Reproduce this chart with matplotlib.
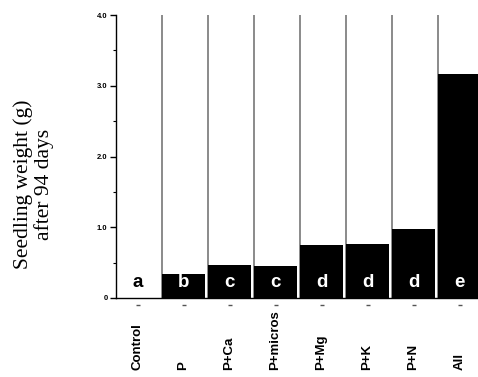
import matplotlib
matplotlib.use('Agg')
import matplotlib.pyplot as plt
import numpy as np

categories = ['Control', 'P', 'P+Ca', 'P+micros', 'P+Mg', 'P+K', 'P+N', 'All']
weights = [0.01, 0.34, 0.47, 0.45, 0.75, 0.76, 0.975, 3.17]
letters = ['a', 'b', 'c', 'c', 'd', 'd', 'd', 'e']
yticks = [0, 1.0, 2.0, 3.0, 4.0]
ytick_labels = ['0', '1.0', '2.0', '3.0', '4.0']

fig = plt.figure(figsize=(4.78, 3.77), dpi=100)
# axes runs past the right edge, like the cropped original
ax = fig.add_axes([116 / 478, 79 / 377, 368 / 478, 283 / 377])

x = np.arange(len(categories))
colors = ['white' if w < 0.05 else 'black' for w in weights]
ax.bar(x, weights, width=0.93, color=colors, align='edge', zorder=2)

# gray separators between treatments
for b in x[1:]:
    ax.axvline(b, ymin=0, ymax=1, color='#8a8a8a', lw=1.4, zorder=1)

# significance letters
for xi, lt, c in zip(x, letters, colors):
    tc = 'black' if c == 'white' else 'white'
    ax.text(xi + 0.47, 0.1, lt, ha='center', va='bottom', color=tc,
            fontsize=13.5, fontweight='bold', family='Liberation Sans', zorder=3)

# small dashes below each bar
ax.plot(x + 0.47, np.full(len(x), -0.1), ls='none', marker='_', color='#555555',
        ms=3, clip_on=False)

ax.set_xlim(0, len(categories))
ax.set_ylim(0, 4.0)
ax.set_yticks(yticks)
ax.set_yticklabels(ytick_labels, fontsize=5.5, fontweight='bold', family='Liberation Sans')
ax.set_yticks(np.arange(0.5, 4.0, 1.0), minor=True)
ax.tick_params(axis='y', which='major', length=4, width=1, direction='out', pad=2)
ax.tick_params(axis='y', which='minor', length=2.5, width=0.8, direction='out')
ax.set_xticks([])

for s in ['top', 'right']:
    ax.spines[s].set_visible(False)
ax.spines['left'].set_linewidth(1)
ax.spines['bottom'].set_linewidth(1)

for xi, lab in zip(x, categories):
    ax.text(xi + 0.47, -1.02, lab, rotation=90, ha='center', va='bottom',
            fontsize=9.5, fontweight='bold', family='Liberation Sans', clip_on=False)

fig.text(0.07, 0.51, 'Seedling weight (g)\nafter 94 days', rotation=90,
         ha='center', va='center', fontsize=15.5, family='Liberation Serif',
         linespacing=1.1)

fig.savefig('out.png', dpi=100)
